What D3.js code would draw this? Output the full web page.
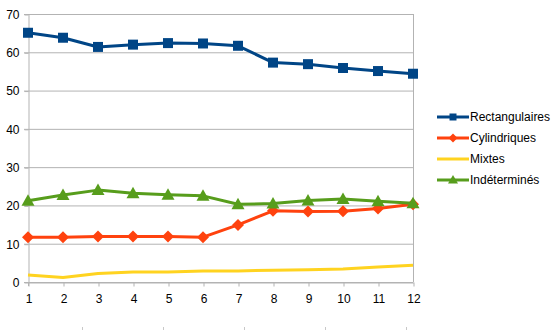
<!DOCTYPE html>
<html>
<head>
<meta charset="utf-8">
<script src="https://cdn.jsdelivr.net/npm/d3@7"></script>
<style>
  html, body { margin: 0; padding: 0; background: #fff; }
  svg text { font-family: "Liberation Sans", Arial, sans-serif; font-size: 12px; fill: #000; }
</style>
</head>
<body>
<svg id="chart" width="560" height="330"></svg>
<script>
// Months 1..12
const categories = [1, 2, 3, 4, 5, 6, 7, 8, 9, 10, 11, 12];
const rectangulaires = [65.1, 63.8, 61.4, 62.0, 62.4, 62.3, 61.7, 57.3, 56.9, 55.9, 55.1, 54.4];
const cylindriques   = [11.7, 11.7, 11.9, 11.9, 11.9, 11.7, 14.9, 18.6, 18.4, 18.5, 19.2, 20.3];
const mixtes         = [1.8, 1.2, 2.2, 2.6, 2.6, 2.9, 2.9, 3.1, 3.2, 3.4, 3.9, 4.4];
const indetermines   = [21.2, 22.7, 24.0, 23.2, 22.8, 22.5, 20.3, 20.5, 21.3, 21.7, 21.1, 20.6];
const yTicks = [0, 10, 20, 30, 40, 50, 60, 70];

const series = [
  { name: "Rectangulaires", values: rectangulaires, color: "#004586", marker: "square" },
  { name: "Cylindriques",   values: cylindriques,   color: "#ff420e", marker: "diamond" },
  { name: "Mixtes",         values: mixtes,         color: "#ffd320", marker: null },
  { name: "Indéterminés",   values: indetermines,   color: "#579d1c", marker: "triangle" }
];

const svg = d3.select("#chart");
const plot = { left: 28, right: 413, top: 14, bottom: 282 };

const x = d3.scalePoint().domain(categories).range([plot.left, plot.right]);
const y = d3.scaleLinear().domain([0, 70]).range([plot.bottom, plot.top]);

// Horizontal grid lines
svg.append("g")
  .selectAll("line")
  .data(yTicks)
  .join("line")
  .attr("x1", plot.left - 4).attr("x2", plot.right)
  .attr("y1", d => y(d) + 0.5).attr("y2", d => y(d) + 0.5)
  .attr("stroke", "#b3b3b3").attr("stroke-width", 1);

// Right border of the plot area
svg.append("line")
  .attr("x1", plot.right + 0.5).attr("x2", plot.right + 0.5)
  .attr("y1", plot.top).attr("y2", plot.bottom)
  .attr("stroke", "#b3b3b3");

// Y axis
const yAxis = svg.append("g")
  .attr("transform", `translate(${plot.left + 0.5},0.5)`)
  .call(d3.axisLeft(y).tickValues(yTicks).tickSize(4).tickSizeOuter(0).tickPadding(5));
yAxis.select(".domain").attr("stroke", "#b3b3b3");
yAxis.selectAll(".tick line").attr("stroke", "#b3b3b3");
yAxis.selectAll("text").style("font-size", "12px");

// X axis
const xAxis = svg.append("g")
  .attr("transform", `translate(0.5,${plot.bottom + 0.5})`)
  .call(d3.axisBottom(x).tickSize(4).tickSizeOuter(0).tickPadding(8));
xAxis.select(".domain").attr("stroke", "#b3b3b3");
xAxis.selectAll(".tick line").attr("stroke", "#b3b3b3");
xAxis.selectAll("text").style("font-size", "12px");

// Extend y axis line a little below zero
svg.append("line")
  .attr("x1", plot.left + 0.5).attr("x2", plot.left + 0.5)
  .attr("y1", plot.bottom).attr("y2", plot.bottom + 4)
  .attr("stroke", "#b3b3b3");

// Faint tick marks along the bottom edge
const footTicks = d3.scaleLinear().domain([0, 4]).range([82.5, 406.5]);
svg.append("g")
  .selectAll("line")
  .data(d3.range(5))
  .join("line")
  .attr("x1", d => footTicks(d)).attr("x2", d => footTicks(d))
  .attr("y1", 327).attr("y2", 330)
  .attr("stroke", "#c8c8c8");

const line = d3.line().x((d, i) => x(categories[i])).y(d => y(d));

function markerPath(type, size) {
  const s = size;
  if (type === "square") return `M${-s},${-s}H${s}V${s}H${-s}Z`;
  if (type === "diamond") return `M0,${-s - 1}L${s + 1},0L0,${s + 1}L${-s - 1},0Z`;
  if (type === "triangle") return `M0,${-s - 1.5}L${s + 1.5},${s}L${-s - 1.5},${s}Z`;
  return "";
}

// Series lines and markers
series.forEach(s => {
  svg.append("path")
    .datum(s.values)
    .attr("fill", "none")
    .attr("stroke", s.color)
    .attr("stroke-width", 3)
    .attr("stroke-linejoin", "round")
    .attr("d", line);
  if (s.marker) {
    svg.append("g")
      .selectAll("path")
      .data(s.values)
      .join("path")
      .attr("transform", (d, i) => `translate(${x(categories[i])},${y(d)})`)
      .attr("d", markerPath(s.marker, 5))
      .attr("fill", s.color);
  }
});

// Legend
const legend = svg.append("g").attr("transform", "translate(437,117)");
const row = legend.selectAll("g")
  .data(series)
  .join("g")
  .attr("transform", (d, i) => `translate(0,${i * 21})`);
row.append("line")
  .attr("x1", 0).attr("x2", 32)
  .attr("y1", 0).attr("y2", 0)
  .attr("stroke", d => d.color).attr("stroke-width", 3);
row.filter(d => d.marker)
  .append("path")
  .attr("transform", "translate(16,0)")
  .attr("d", d => markerPath(d.marker, 3.5))
  .attr("fill", d => d.color);
row.append("text")
  .attr("x", 33).attr("y", 0).attr("dy", "0.35em")
  .text(d => d.name);
</script>
</body>
</html>
